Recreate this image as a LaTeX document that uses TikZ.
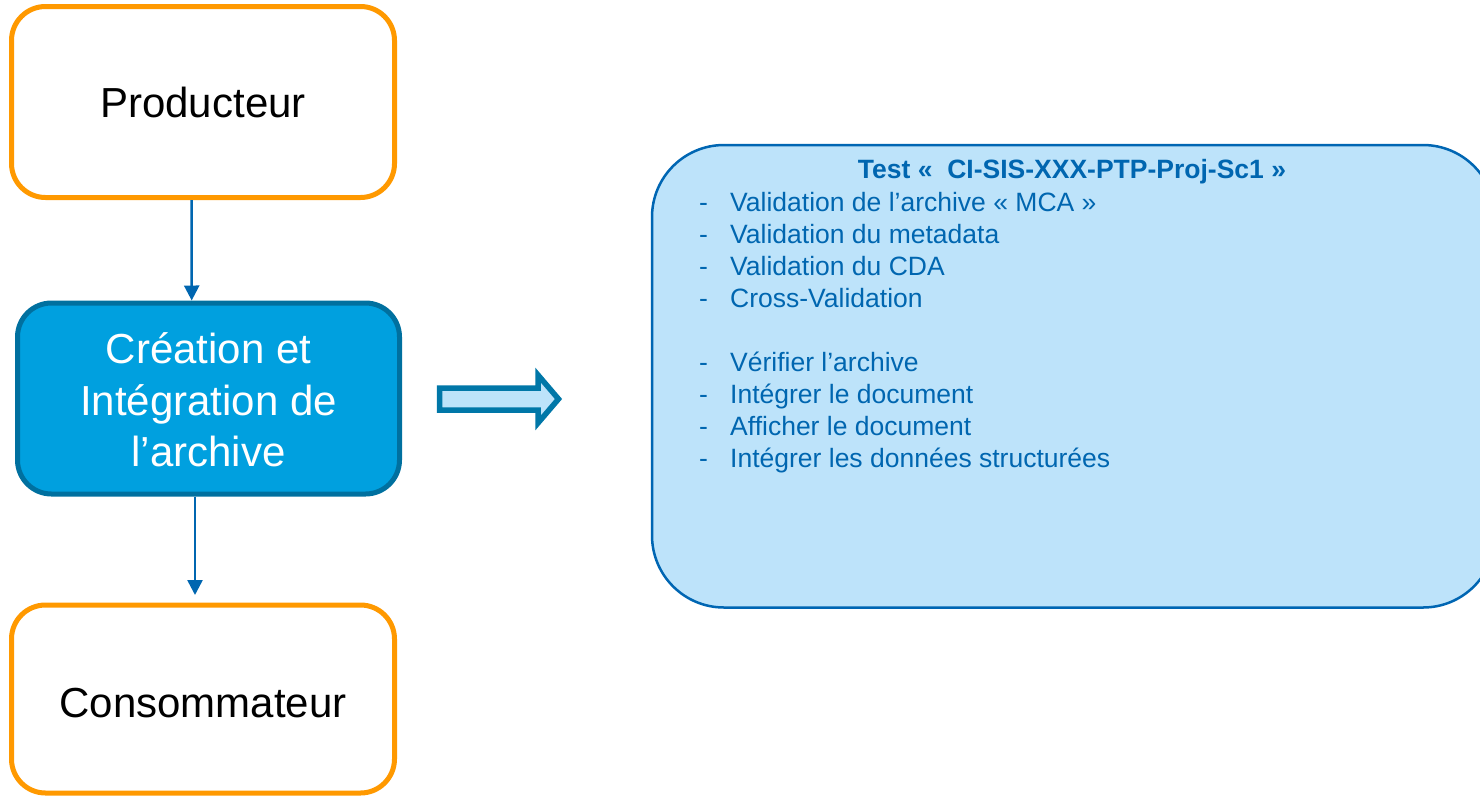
\documentclass[tikz,border=0pt]{standalone}
\usepackage{fontspec}
\setmainfont{Liberation Sans}
\usetikzlibrary{arrows.meta}
\definecolor{orng}{HTML}{FF9900}
\definecolor{midfill}{HTML}{00A0DF}
\definecolor{midline}{HTML}{00709F}
\definecolor{flowblue}{HTML}{0066B0}
\definecolor{rfill}{HTML}{BDE3FA}
\definecolor{rline}{HTML}{0066B3}
\definecolor{txtblue}{HTML}{0066B0}
\definecolor{bigline}{HTML}{0077A8}
\tikzset{
  obox/.style={draw=orng, fill=white, line width=5pt, rounded corners=34pt, inner sep=0pt},
  bbox/.style={draw=midline, fill=midfill, line width=5pt, rounded corners=34pt, inner sep=0pt},
  rbox/.style={draw=rline, fill=rfill, line width=2.5pt, rounded corners=72pt, inner sep=0pt},
  flow/.style={draw=flowblue, line width=2.5pt, -{Triangle[length=15pt,width=15pt]}},
  bigarrow/.style={draw=bigline, fill=rfill, line width=5.5pt, miter limit=10},
  lbl/.style={anchor=base, inner sep=0pt, font=\fontsize{42}{51}\selectfont},
  wlbl/.style={lbl, text=white},
  ttl/.style={anchor=base, inner sep=0pt, text=txtblue, font=\fontsize{26.5}{32}\selectfont\bfseries},
  itm/.style={anchor=base west, inner sep=0pt, text=txtblue, font=\fontsize{26.5}{32}\selectfont},
}
\begin{document}
\begin{tikzpicture}[x=1pt,y=-1pt]
\useasboundingbox (0,0) rectangle (1480,796);

% left column boxes
\node[obox, minimum width=383pt, minimum height=191pt] (prod) at (203,102) {};
\node[bbox, minimum width=382pt, minimum height=191pt] (mid) at (208.5,398.5) {};
\node[obox, minimum width=383pt, minimum height=188pt] (cons) at (203,699) {};

\node[lbl] (prodt) at ([yshift=-15pt]prod.center) {Producteur};
\node[wlbl] (m1) at ([yshift=35.5pt]mid.center) {Création et};
\node[wlbl] (m2) at ([yshift=-16.5pt]mid.center) {Intégration de};
\node[wlbl] (m3) at ([yshift=-67.5pt]mid.center) {l’archive};
\node[lbl] (const) at ([yshift=-18pt]cons.center) {Consommateur};

% connectors
\draw[flow] ([xshift=-11.5pt]prod.south) -- ([xshift=-16.8pt]mid.north);
\draw[flow, shorten >=7.5pt] ([xshift=-13.5pt]mid.south) -- ([xshift=-8pt]cons.north);

% block arrow
\draw[bigarrow] (439.5,388) -- (538,388) -- (538,375) -- (558.5,399) -- (538,423) -- (538,410) -- (439.5,410) -- cycle;

% right box
\node[rbox, minimum width=843pt, minimum height=462.5pt] (test) at (1073.5,376.25) {};
\node[ttl] (title) at (1072,178) {Test «~~CI-SIS-XXX-PTP-Proj-Sc1~»};

\node[itm] (d1) at (699,211) {-};
\node[itm] (i1) at (730,211) {Validation de l’archive « MCA »};
\node[itm] (d2) at (699,243) {-};
\node[itm] (i2) at (730,243) {Validation du metadata};
\node[itm] (d3) at (699,275) {-};
\node[itm] (i3) at (730,275) {Validation du CDA};
\node[itm] (d4) at (699,307) {-};
\node[itm] (i4) at (730,307) {Cross-Validation};
\node[itm] (d5) at (699,371) {-};
\node[itm] (i5) at (730,371) {Vérifier l’archive};
\node[itm] (d6) at (699,403) {-};
\node[itm] (i6) at (730,403) {Intégrer le document};
\node[itm] (d7) at (699,435) {-};
\node[itm] (i7) at (730,435) {Afficher le document};
\node[itm] (d8) at (699,467) {-};
\node[itm] (i8) at (730,467) {Intégrer les données structurées};
\end{tikzpicture}
\end{document}
